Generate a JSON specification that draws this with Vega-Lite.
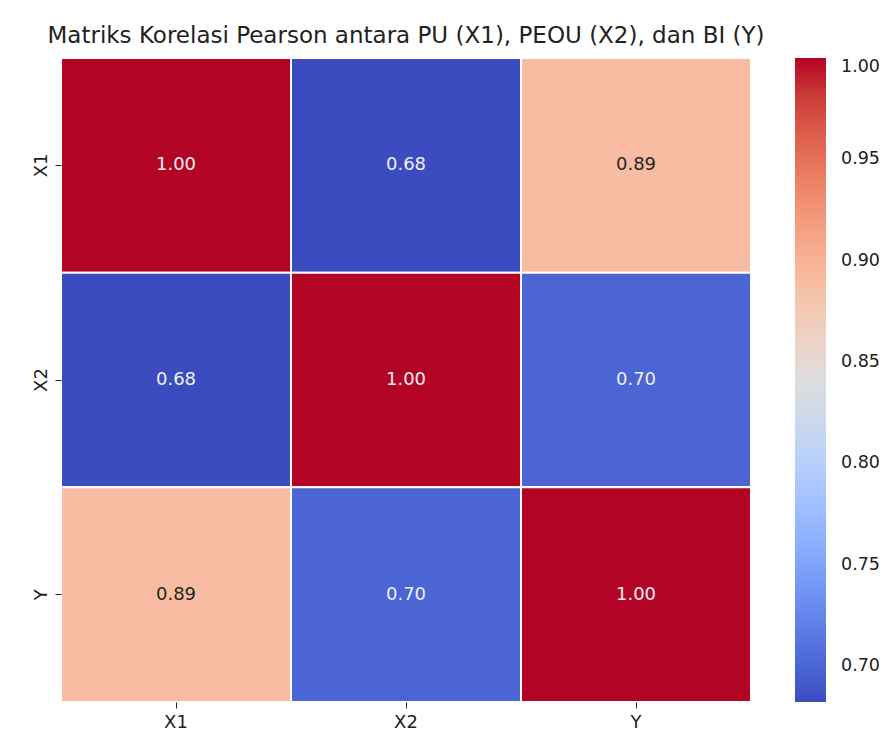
{
  "$schema": "https://vega.github.io/schema/vega-lite/v6.json",
  "width": 690,
  "height": 644,
  "autosize": {"type": "none"},
  "padding": {"left": 61, "top": 58, "right": 134, "bottom": 42},
  "background": "white",
  "title": {
    "text": "Matriks Korelasi Pearson antara PU (X1), PEOU (X2), dan BI (Y)",
    "font": "DejaVu Sans",
    "fontSize": 23,
    "fontWeight": "normal",
    "color": "#222222",
    "anchor": "middle",
    "offset": 9
  },
  "config": {
    "view": {"stroke": null},
    "font": "DejaVu Sans"
  },
  "data": {
    "values": [
      {"row": "X1", "col": "X1", "r": 1.0},
      {"row": "X1", "col": "X2", "r": 0.6823},
      {"row": "X1", "col": "Y", "r": 0.89},
      {"row": "X2", "col": "X1", "r": 0.6823},
      {"row": "X2", "col": "X2", "r": 1.0},
      {"row": "X2", "col": "Y", "r": 0.70},
      {"row": "Y", "col": "X1", "r": 0.89},
      {"row": "Y", "col": "X2", "r": 0.70},
      {"row": "Y", "col": "Y", "r": 1.0}
    ]
  },
  "encoding": {
    "x": {
      "field": "col", "type": "nominal", "sort": ["X1", "X2", "Y"],
      "scale": {"paddingInner": 0, "paddingOuter": 0},
      "axis": {"title": null, "labelAngle": 0, "domain": false, "grid": false, "ticks": true, "tickSize": 6, "tickColor": "#222222", "labelFont": "DejaVu Sans", "labelFontSize": 18, "labelColor": "#222222", "labelPadding": 5}
    },
    "y": {
      "field": "row", "type": "nominal", "sort": ["X1", "X2", "Y"],
      "scale": {"paddingInner": 0, "paddingOuter": 0},
      "axis": {"title": null, "labelAngle": 270, "labelAlign": "center", "labelBaseline": "bottom", "domain": false, "grid": false, "ticks": true, "tickSize": 6, "tickColor": "#222222", "labelFont": "DejaVu Sans", "labelFontSize": 18, "labelColor": "#222222", "labelPadding": 5}
    }
  },
  "layer": [
    {
      "mark": {"type": "rect", "stroke": "white", "strokeWidth": 2},
      "encoding": {
        "color": {
          "field": "r", "type": "quantitative",
          "scale": {
            "domain": [0.6823, 0.692237, 0.702175, 0.712112, 0.72205, 0.731987, 0.741925, 0.751862, 0.7618, 0.771737, 0.781675, 0.791612, 0.80155, 0.811487, 0.821425, 0.831362, 0.8413, 0.851237, 0.861175, 0.871112, 0.88105, 0.890987, 0.900925, 0.910862, 0.9208, 0.930737, 0.940675, 0.950612, 0.96055, 0.970487, 0.980425, 0.990362, 1.0],
            "range": ["rgb(59,76,192)", "rgb(68,90,204)", "rgb(77,104,215)", "rgb(87,117,225)", "rgb(98,130,234)", "rgb(108,142,241)", "rgb(119,154,247)", "rgb(130,165,251)", "rgb(141,176,254)", "rgb(152,185,255)", "rgb(163,194,255)", "rgb(174,201,253)", "rgb(184,208,249)", "rgb(194,213,244)", "rgb(204,217,238)", "rgb(213,219,230)", "rgb(221,221,221)", "rgb(229,216,209)", "rgb(236,211,197)", "rgb(241,204,185)", "rgb(245,196,173)", "rgb(247,187,160)", "rgb(247,177,148)", "rgb(247,166,135)", "rgb(244,154,123)", "rgb(241,141,111)", "rgb(236,127,99)", "rgb(229,112,88)", "rgb(222,96,77)", "rgb(213,80,66)", "rgb(203,62,56)", "rgb(192,40,47)", "rgb(180,4,38)"],
            "interpolate": "rgb"
          },
          "legend": {
            "title": null,
            "orient": "right",
            "offset": 44,
            "padding": 0,
            "gradientLength": 644,
            "gradientThickness": 31,
            "gradientStrokeWidth": 0,
            "values": [0.70, 0.75, 0.80, 0.85, 0.90, 0.95, 1.00],
            "format": ".2f",
            "labelFont": "DejaVu Sans",
            "labelFontSize": 17.5,
            "labelColor": "#222222",
            "labelOffset": 15,
            "labelOverlap": false
          }
        }
      }
    },
    {
      "mark": {"type": "text", "font": "DejaVu Sans", "fontSize": 18},
      "encoding": {
        "text": {"field": "r", "type": "quantitative", "format": ".2f"},
        "color": {
          "condition": {"test": "datum.r > 0.8 && datum.r < 0.95", "value": "#262626"},
          "value": "#f0f0f0"
        }
      }
    }
  ]
}
